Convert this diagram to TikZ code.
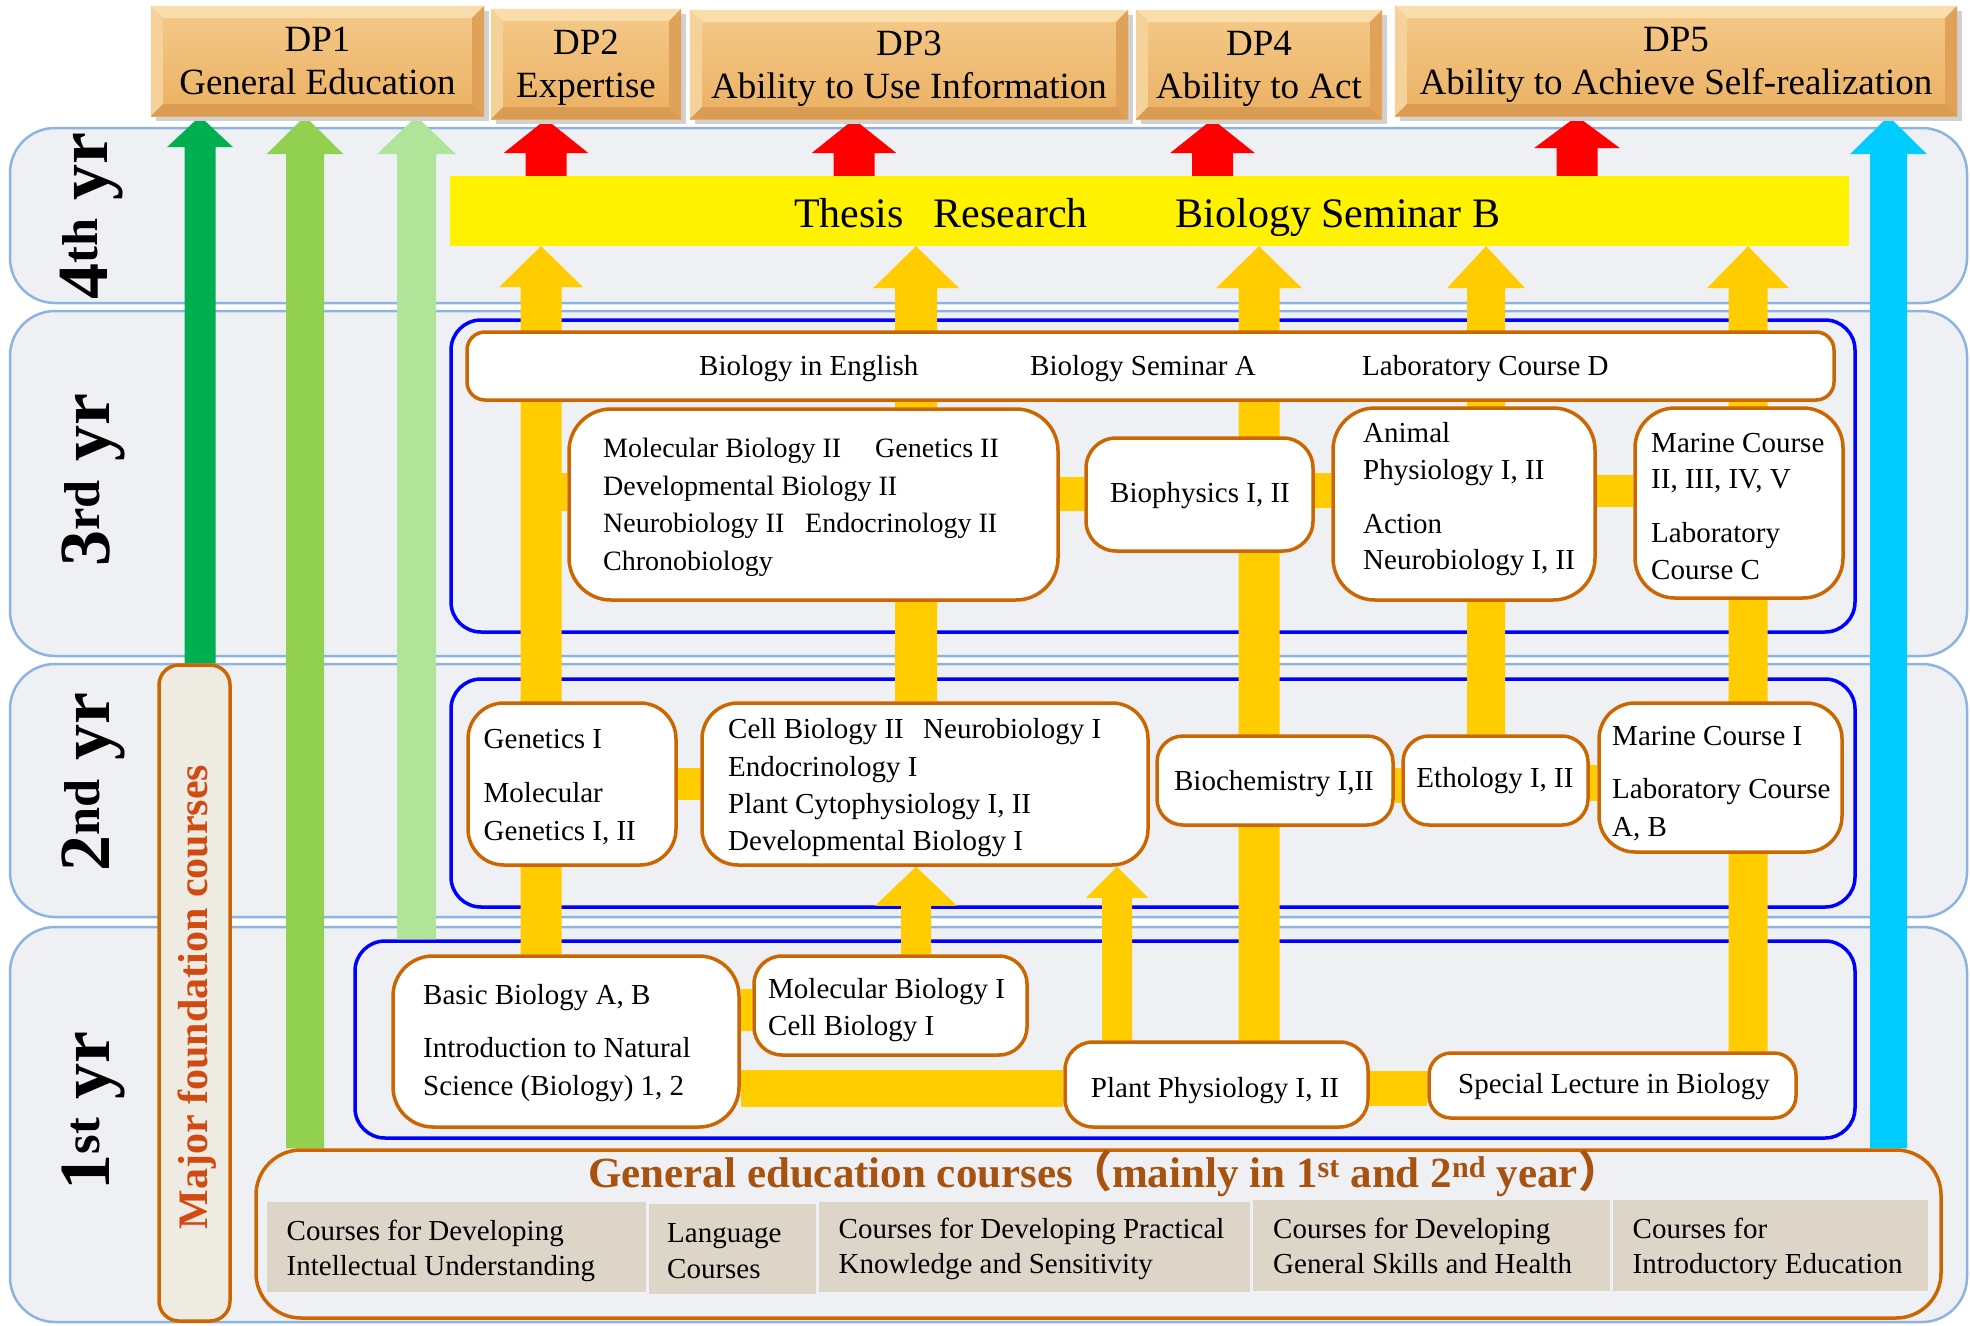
\documentclass[tikz,border=0pt]{standalone}
\usepackage{fontspec}
\setmainfont{Liberation Serif}
\newfontfamily\cjk{Noto Sans CJK SC}
\usetikzlibrary{calc,fit}
\definecolor{bandline}{HTML}{8DB3E2}
\definecolor{bandfill}{HTML}{EEF0F4}
\definecolor{oline}{HTML}{CC6600}
\definecolor{ycol}{HTML}{FFCC00}
\definecolor{gdark}{HTML}{00B050}
\definecolor{gmid}{HTML}{92D050}
\definecolor{glight}{HTML}{B0E498}
\definecolor{cyanarr}{HTML}{00CCFF}
\definecolor{tanbox}{HTML}{DDD5C8}
\definecolor{mfill}{HTML}{EEEBE2}
\definecolor{mtext}{HTML}{D04A12}
\definecolor{gtitle}{HTML}{A8520F}
\definecolor{dptop}{HTML}{F4CA8A}
\definecolor{dpbot}{HTML}{EBB062}
\definecolor{dptl}{HTML}{F9DDAA}
\definecolor{dpll}{HTML}{F5D29A}
\definecolor{dprl}{HTML}{E0A258}
\definecolor{dpbl}{HTML}{DA9C52}
\pgfdeclarelayer{bandlayer}
\pgfdeclarelayer{grouplayer}
\pgfdeclarelayer{connlayer}
\pgfsetlayers{bandlayer,grouplayer,connlayer,main}
\newcommand\uparr[7]{%
  \fill[#1] let \p1=(#3), \p2=(#4) in
    ({#2pt-#5pt},\y1) -- ({#2pt-#5pt},{\y2-#7pt}) -- ({#2pt-#6pt},{\y2-#7pt})
    -- (#2pt,\y2) -- ({#2pt+#6pt},{\y2-#7pt}) -- ({#2pt+#5pt},{\y2-#7pt})
    -- ({#2pt+#5pt},\y1) -- cycle;}
\newcommand\dpbox[7]{%
  \fill[black!18] (#2+5,#3+5) rectangle (#4+5,#5+5);
  \node[dpbase, fit={(#2,#3) (#4,#5)}] (#1) {};
  \fill[dptl] (#1.north west) -- (#1.north east) -- ($(#1.north east)+(-12,12)$) -- ($(#1.north west)+(12,12)$) -- cycle;
  \fill[dpll] (#1.north west) -- ($(#1.north west)+(12,12)$) -- ($(#1.south west)+(12,-12)$) -- (#1.south west) -- cycle;
  \fill[dprl] (#1.north east) -- ($(#1.north east)+(-12,12)$) -- ($(#1.south east)+(-12,-12)$) -- (#1.south east) -- cycle;
  \fill[dpbl] (#1.south west) -- ($(#1.south west)+(12,-12)$) -- ($(#1.south east)+(-12,-12)$) -- (#1.south east) -- cycle;
  \node[dptxt] (#1a) at ($(#1.north)+(0,46)$) {#6};
  \node[dptxt] (#1b) at ($(#1.north)+(0,89)$) {#7};
}
\tikzset{
  band/.style={draw=bandline, fill=bandfill, line width=2.5pt, rounded corners=45pt, inner sep=0pt},
  grp/.style={draw=blue, line width=3.5pt, rounded corners=30pt, inner sep=0pt},
  obox/.style={draw=oline, fill=white, line width=3.5pt, inner sep=0pt},
  ybar/.style={draw=ycol, line width=#1},
  ct/.style={font=\fontsize{29}{35}\selectfont, inner sep=0pt, anchor=base west},
  ctc/.style={font=\fontsize{29}{35}\selectfont, inner sep=0pt, anchor=base},
  cs/.style={font=\fontsize{28}{34}\selectfont, inner sep=0pt, anchor=base west},
  yrlab/.style={font=\bfseries\fontsize{72}{80}\selectfont, inner sep=0pt, anchor=base, rotate=90},
  tanbx/.style={fill=tanbox, inner sep=0pt},
  dpbase/.style={inner sep=0pt, top color=dptop, bottom color=dpbot},
  dptxt/.style={font=\fontsize{37}{44}\selectfont, inner sep=0pt, anchor=base},
}
\begin{document}
\begin{tikzpicture}[x=1pt,y=-1pt]
\useasboundingbox (0,0) rectangle (1970,1325);
% year bands
\begin{pgfonlayer}{bandlayer}
\node[band, fit={(10,128) (1967,303)}] (band4) {};
\node[band, fit={(10,311) (1967,656)}] (band3) {};
\node[band, fit={(10,664) (1967,917)}] (band2) {};
\node[band, fit={(10,927) (1967,1322)}] (band1) {};
\end{pgfonlayer}
% year groups
\begin{pgfonlayer}{grouplayer}
\node[grp, fit={(451,320) (1855,632)}] (grp3) {};
\node[grp, fit={(451,679) (1855,907)}] (grp2) {};
\node[grp, fit={(355,941) (1855,1138)}] (grp1) {};
\end{pgfonlayer}
% DP boxes
\dpbox{dp1}{151}{6}{484}{116}{DP1}{General Education}
\dpbox{dp2}{491}{9}{681}{119}{DP2}{Expertise}
\dpbox{dp3}{690}{10}{1128}{119}{DP3}{Ability to Use Information}
\dpbox{dp4}{1136}{10}{1382}{119}{DP4}{Ability to Act}
\dpbox{dp5}{1395}{6}{1957}{116}{DP5}{Ability to Achieve Self-realization}
% year labels
\node[yrlab] (y4) at (107,216) {4\textsuperscript{th} yr};
\node[yrlab] (y3) at (109,480) {3\textsuperscript{rd} yr};
\node[yrlab] (y2) at (109,782) {2\textsuperscript{nd} yr};
\node[yrlab] (y1) at (109,1111) {1\textsuperscript{st} yr};
% thesis box
\node[fill=yellow, inner sep=0pt, fit={(450,176) (1849,246)}] (thesis) {};
\node[font=\fontsize{42}{50}\selectfont, inner sep=0pt, anchor=base west] (thesistxt) at (794,227) {Thesis\hspace{30pt}Research\hspace{88pt}Biology Seminar B};
% 3rd year boxes
\node[obox, rounded corners=18pt, fit={(467,332) (1834,400)}] (bar3) {};
\node[obox, rounded corners=42pt, fit={(569,409) (1058,600)}] (molbio2) {};
\node[obox, rounded corners=30pt, fit={(1086,438) (1313,551)}] (biophys) {};
\node[obox, rounded corners=42pt, fit={(1333,408) (1595,600)}] (animal) {};
\node[obox, rounded corners=40pt, fit={(1635,408) (1843,598)}] (marine2) {};
% 2nd year boxes
\node[obox, rounded corners=36pt, fit={(468,703) (676,865)}] (genet) {};
\node[obox, rounded corners=36pt, fit={(702,703) (1148,865)}] (cellbio) {};
\node[obox, rounded corners=26pt, fit={(1157,736) (1393,825)}] (biochem) {};
\node[obox, rounded corners=26pt, fit={(1403,736) (1588,825)}] (etho) {};
\node[obox, rounded corners=36pt, fit={(1599,703) (1842,852)}] (marine1) {};
% 1st year boxes
\node[obox, rounded corners=40pt, fit={(393,956) (739,1127)}] (basic) {};
\node[obox, rounded corners=28pt, fit={(754,956) (1027,1055)}] (molbio1) {};
\node[obox, rounded corners=28pt, fit={(1065,1042) (1368,1127)}] (plantphys) {};
\node[obox, rounded corners=22pt, fit={(1429,1053) (1796,1118)}] (speclec) {};
% general education
\node[draw=oline, line width=3.5pt, rounded corners=45pt, inner sep=0pt, fit={(256,1150) (1941,1318)}] (gened) {};
\node[tanbx, fit={(267,1202) (646,1292)}] (ge1) {};
\node[tanbx, fit={(649,1204) (816,1294)}] (ge2) {};
\node[tanbx, fit={(819,1202) (1250,1292)}] (ge3) {};
\node[tanbx, fit={(1253,1200) (1610,1291)}] (ge4) {};
\node[tanbx, fit={(1613,1200) (1928,1291)}] (ge5) {};
\node[font=\bfseries\fontsize{43}{50}\selectfont, text=gtitle, inner sep=0pt, anchor=base west] (getitle) at (588,1187)
  {General education courses{\cjk \hspace{-4pt}（}mainly in 1\textsuperscript{st} and 2\textsuperscript{nd} year{\cjk ）}};
% major foundation
\node[draw=oline, fill=mfill, line width=3.5pt, rounded corners=20pt, inner sep=0pt, fit={(159,665) (230,1321)}] (majorf) {};
\node[font=\bfseries\fontsize{42}{50}\selectfont, text=mtext, inner sep=0pt, anchor=base, rotate=90] (mtxt) at (207,997) {Major foundation courses};
% texts 3rd year
\node[ct] (t3a) at (699,375) {Biology in English};
\node[ct] (t3b) at (1030,375) {Biology Seminar A};
\node[ct] (t3c) at (1362,375) {Laboratory Course D};
\node[cs] (m2a) at (603,457) {Molecular Biology II};
\node[cs] (m2b) at (875,457) {Genetics II};
\node[cs] (m2c) at (603,495) {Developmental Biology II};
\node[cs] (m2d) at (603,532) {Neurobiology II};
\node[cs] (m2e) at (805,532) {Endocrinology II};
\node[cs] (m2f) at (603,570) {Chronobiology};
\node[ctc] (bp) at (1200,502) {Biophysics I, II};
\node[ct] (an1) at (1363,442) {Animal};
\node[ct] (an2) at (1363,479) {Physiology I, II};
\node[ct] (an3) at (1363,533) {Action};
\node[ct] (an4) at (1363,569) {Neurobiology I, II};
\node[ct] (mc1) at (1651,452) {Marine Course};
\node[ct] (mc2) at (1651,488) {II, III, IV, V};
\node[ct] (mc3) at (1651,542) {Laboratory};
\node[ct] (mc4) at (1651,579) {Course C};
% texts 2nd year
\node[ct] (g1) at (483.5,748) {Genetics I};
\node[ct] (g2) at (483.5,802) {Molecular};
\node[ct] (g3) at (483.5,840) {Genetics I, II};
\node[ct] (c1) at (728,738) {Cell Biology II};
\node[ct] (c2) at (923,738) {Neurobiology I};
\node[ct] (c3) at (728,776) {Endocrinology I};
\node[ct] (c4) at (728,813) {Plant Cytophysiology I, II};
\node[ct] (c5) at (728,850) {Developmental Biology I};
\node[ctc] (bc) at (1274,790) {Biochemistry I,II};
\node[ctc] (et) at (1495,787) {Ethology I, II};
\node[ct] (mi1) at (1612,745) {Marine Course I};
\node[ct] (mi2) at (1612,798) {Laboratory Course};
\node[ct] (mi3) at (1612,836) {A, B};
% texts 1st year
\node[ct] (b1) at (423,1004) {Basic Biology A, B};
\node[ct] (b2) at (423,1057) {Introduction to Natural};
\node[ct] (b3) at (423,1095) {Science (Biology) 1, 2};
\node[ct] (mb1) at (768,998) {Molecular Biology I};
\node[ct] (mb2) at (768,1035) {Cell Biology I};
\node[ctc] (pp) at (1215,1097) {Plant Physiology I, II};
\node[ctc] (sl) at (1614,1093) {Special Lecture in Biology};
% general education texts
\node[ct] (e1a) at (286.5,1240) {Courses for Developing};
\node[ct] (e1b) at (286.5,1275) {Intellectual Understanding};
\node[ct] (e2a) at (667,1242) {Language};
\node[ct] (e2b) at (667,1278) {Courses};
\node[ct] (e3a) at (838.5,1238) {Courses for Developing Practical};
\node[ct] (e3b) at (838.5,1273) {Knowledge and Sensitivity};
\node[ct] (e4a) at (1273,1238) {Courses for Developing};
\node[ct] (e4b) at (1273,1273) {General Skills and Health};
\node[ct] (e5a) at (1632.5,1238) {Courses for};
\node[ct] (e5b) at (1632.5,1273) {Introductory Education};
% connectors
\begin{pgfonlayer}{connlayer}
\uparr{gdark}{200}{majorf.north}{dp1.south}{15.5}{33}{31}
\uparr{gmid}{305}{gened.north}{dp1.south}{19}{38.5}{38}
\uparr{glight}{416.5}{grp1.north}{dp1.south}{19.5}{39.5}{38}
\uparr{cyanarr}{1888.5}{gened.north}{dp5.south}{18.5}{38.5}{38}
\uparr{red}{546}{thesis.north}{dp2.south}{20.5}{42.5}{34}
\uparr{red}{854}{thesis.north}{dp3.south}{20.5}{42.5}{34}
\uparr{red}{1212.5}{thesis.north}{dp4.south}{20.5}{42.5}{34}
\uparr{red}{1577}{thesis.north}{dp5.south}{20.5}{43}{32}
\uparr{ycol}{541}{basic.north}{thesis.south}{20.5}{42}{41}
\uparr{ycol}{916}{cellbio.north}{thesis.south}{21}{43}{42}
\uparr{ycol}{1259}{plantphys.north}{thesis.south}{20.5}{43}{42}
\uparr{ycol}{1486}{etho.north}{thesis.south}{19}{39}{42}
\uparr{ycol}{1748}{speclec.north}{thesis.south}{19.5}{41}{42}
\uparr{ycol}{916}{molbio1.north}{cellbio.south}{15}{41}{39}
\uparr{ycol}{1117}{plantphys.north}{cellbio.south}{15}{31}{31}
\coordinate (colA3) at (541,492);
\draw[ybar=38pt] (colA3) -- (molbio2.west |- 0,492);
\draw[ybar=34pt] (molbio2.east |- 0,494) -- (biophys.west |- 0,494);
\draw[ybar=35pt] (biophys.east |- 0,490) -- (animal.west |- 0,490);
\draw[ybar=32pt] (animal.east |- 0,491) -- (marine2.west |- 0,491);
\draw[ybar=32pt] (genet.east |- 0,784) -- (cellbio.west |- 0,784);
\draw[ybar=35pt] (biochem.east |- 0,785) -- (etho.west |- 0,785);
\draw[ybar=36pt] (etho.east |- 0,783) -- (marine1.west |- 0,783);
\draw[ybar=42pt] (basic.east |- 0,1010) -- (molbio1.west |- 0,1010);
\draw[ybar=37pt] (basic.east |- 0,1088) -- (plantphys.west |- 0,1088);
\draw[ybar=35pt] (plantphys.east |- 0,1088) -- (speclec.west |- 0,1088);
\end{pgfonlayer}
\end{tikzpicture}
\end{document}
